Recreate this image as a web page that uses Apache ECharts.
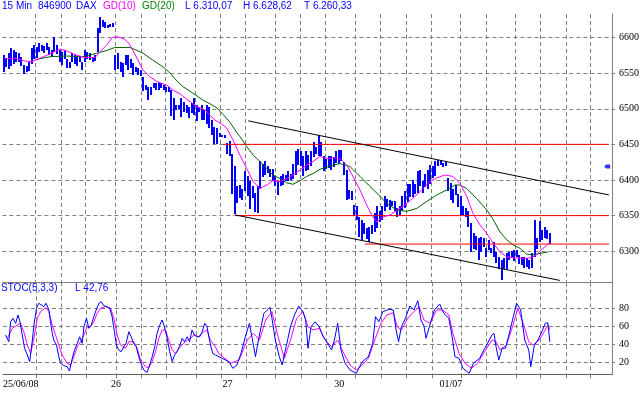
<!DOCTYPE html>
<html><head><meta charset="utf-8">
<script src="https://cdn.jsdelivr.net/npm/echarts@6/dist/echarts.min.js"></script>
<style>html,body{margin:0;padding:0;background:#fff}#c{width:643px;height:393px}</style>
</head><body><div id="c"></div>
<script>
// ---- data (x unit = bar number, 15-minute bars) ----
const high = [
6575,6571,6578,6585,6582,6580,6578,6572,6562,6560,
6565,6585,6590,6587,6592,6590,6588,6592,6586,6582,
6601,6590,6582,6580,6583,6570,6566,6578,6575,6572,
6574,6565,6582,6580,6578,6572,6576,6613,6628.62,6624,
6622,6618,6619,6620,
6575,6578,6566,6564,6575,6575,6570,6564,6559,6557,
6554,6545,6533,6531,6530,6536,6536,6538,6536,6533,
6531,6531,6526,6515,6505,6505,6515,6510,6505,6503,
6508,6515,6505,6503,6505,6498,6505,6503,6484,6475,
6473,6466,6463,6463,
6452,6455,6437,6419,6391,6393,6388,6412,6405,6398,
6391,6382,6391,6426,6423,6426,6419,6416,6415,6405,
6398,6405,6409,6407,6412,6409,6423,6440,6444,6440,
6433,6440,6435,6440,6454,6447,6463,6454,6433,6430,
6433,6433,6432,6440,
6442,6442,6425,6414,6386,6384,6365,6363,6348,6344,
6339,6332,6334,6337,6353,6363,6356,6363,6377,6374,
6372,6370,6370,6360,6363,6377,6384,6395,6395,6400,
6395,6412,6414,6398,6409,6414,6421,6419,6426,6428,
6428,6424,6425,6403,
6396,6387,6393,6381,6377,6363,6360,6356,6340,6325,
6321,6318,6320,6318,6304,6316,6304,6313,6299,6292,
6288,6290,6297,6299,6300,6302,6302,6295,6292,6292,
6290,6288,6297,6344,6318,6342,6330,6334,6330,6326
];
const low = [
6551,6559,6556,6560,6562,6566,6565,6560,6550,6551,
6553,6562,6570,6572,6580,6582,6578,6582,6575,6572,
6580,6578,6565,6562,6570,6558,6558,6566,6563,6560,
6565,6554,6565,6570,6568,6565,6568,6580,6606,6614,
6614,6614,6615,6615,
6554,6556,6552,6545,6561,6554,6557,6547,6552,6547,
6545,6526,6526,6513,6519,6529,6526,6527,6529,6526,
6524,6524,6489,6484,6498,6500,6489,6496,6494,6487,
6494,6491,6482,6496,6484,6484,6478,6473,6463,6451,
6450,6460,6460,6459,
6437,6434,6381,6351,6367,6375,6372,6384,6377,6358,
6374,6356,6353,6386,6405,6407,6409,6405,6398,6391,
6379,6391,6393,6398,6398,6400,6402,6407,6421,6419,
6405,6412,6414,6419,6433,6437,6433,6435,6412,6416,
6416,6414,6418,6423,
6423,6426,6407,6372,6374,6372,6349,6344,6320,6316,
6323,6316,6313,6325,6327,6332,6341,6344,6356,6363,
6358,6363,6356,6348,6351,6356,6360,6370,6377,6376,
6381,6381,6391,6381,6391,6388,6395,6402,6405,6419,
6421,6419,6420,6385,
6372,6368,6379,6363,6351,6351,6348,6334,6299,6302,
6302,6287,6299,6306,6292,6302,6297,6292,6283,6275,
6260.33,6275,6274,6288,6290,6286,6292,6283,6281,6276,
6278,6276,6276,6292,6302,6313,6316,6318,6318,6311
];
const ma10 = [
[0.5,6570],[4.5,6571],[8.4,6567],[11.2,6566],[14.3,6571],[18.2,6577],[22.2,6584],[24.9,6581],[28.9,6575],[32,6572],
[36,6572],[37.9,6580],[40.7,6590],[42.7,6600],[45,6601],[47.4,6598],[49.3,6592],[50.9,6582],[52.9,6568],[54.9,6554],
[57.6,6545],[60.4,6538],[64.3,6533],[66.7,6526],[69.4,6521],[72.6,6512],[76.1,6503],[79.3,6498],[81.2,6491],[83.2,6484],
[85.2,6480],[87.8,6473],[90.3,6456],[93,6435],[95.7,6416],[98.2,6398],[100.9,6388],[103.6,6393],[106,6399],[108.8,6398],
[111.4,6402],[113.9,6407],[116.7,6414],[119.3,6421],[121.8,6426],[124.5,6433],[127.2,6430],[129.7,6431],[132.4,6430],[135.1,6421],
[137.5,6405],[140.3,6386],[142.9,6365],[144.9,6351],[146.9,6341],[149.3,6348],[152.1,6351],[154.7,6357],[157.2,6363],[160,6371],
[162.6,6379],[165.1,6388],[167.8,6398],[170.5,6403],[173.8,6407],[176.9,6405],[179.7,6395],[182.3,6377],[184.8,6353],[187.5,6337],
[190.2,6325],[192.8,6311],[195.4,6299],[198.1,6292],[200.5,6291],[203.3,6290],[205.9,6290],[207.9,6291],[209.9,6295],[211.6,6302],
[213.8,6308],[215.1,6313]
];
const ma20 = [
[12.7,6569],[18.2,6573],[24.9,6574],[31.2,6573],[36.7,6578],[40.7,6582],[43.8,6586],[47.8,6586],[49.7,6586],[51.7,6583],
[54.9,6578],[58.8,6568],[62.7,6559],[65.5,6550],[68.2,6539],[70.6,6531],[74.5,6522],[78.5,6512],[81.2,6507],[84,6501],
[86.4,6492],[89.1,6481],[91.5,6468],[93,6461],[95.7,6447],[98.2,6435],[100.9,6426],[103.6,6416],[106,6407],[108.8,6402],
[111.4,6396],[113.9,6394],[116.7,6399],[119.3,6405],[121.8,6409],[124.5,6415],[127.2,6418],[129.7,6421],[132.4,6423],[136.3,6419],
[140.3,6405],[144.2,6391],[148.2,6377],[150.8,6367],[154.7,6358],[158.7,6356],[162.6,6360],[166.6,6370],[170.5,6379],[174.4,6386],
[177.7,6393],[179.7,6393],[182.3,6388],[186.2,6374],[190.2,6358],[192.8,6344],[195.4,6327],[198.1,6316],[200.5,6309],[203.3,6304],
[205.9,6296],[208.4,6295],[211.2,6297],[214.3,6299]
];
const stochK = [
[0.5,50.3],[1.8,42.9],[2.5,65],[3.4,68.9],[4.5,63.3],[5.4,72.6],[6.2,65],[7.1,50.3],[8,35.6],[9.1,28.1],[10,20.7],[11,42.9],[11.7,61.4],[12.7,80],[13.6,85.6],[14.6,83.7],[15.6,81.8],[16.5,85.6],[17.6,78.1],[18.2,65],[18.9,52.2],[19.5,44.8],[20.6,39.2],[21.5,26.2],[22.2,18.9],[23.5,16.2],[24.8,15.1],[25.7,10.3],[26.8,24.4],[27.7,33.7],[28.8,41.1],[29.7,48.4],[30.7,41.1],[31.4,59.6],[32.4,68.9],[33.3,57.8],[34.3,61.4],[35.3,70.7],[36.2,78.1],[37.3,85.6],[38.2,87.4],[39.2,82.9],[40.6,81.8],[41.6,80],[42.5,70.7],[43.4,54],[44.2,39.2],[45.1,33.7],[46.1,31.8],[47.1,37.3],[48,41.1],[49.1,54],[50,48.4],[51,41.1],[52,37.3],[53,26.2],[54.1,17],[55,11.4],[56.3,8.9],[57.3,17],[58.3,26.2],[59.3,37.3],[60.2,52.2],[61.3,61.4],[62.2,67],[63.1,59.6],[64.2,46.7],[65.2,31.8],[66.2,20.7],[67.1,28.1],[68.1,31.8],[69,37.3],[70.1,46.7],[71,42.9],[72.1,48.4],[73,42.9],[74,55.9],[74.9,50.3],[76,48.4],[77,48.4],[78,54],[79,63.3],[79.9,59.6],[81,42.9],[82.1,30],[83.2,28.1],[85.9,24.4],[88.5,20.7],[90.1,13.3],[91.7,17],[93.3,30],[95,48.4],[96.6,63.3],[97.7,46.7],[99,26.2],[100.3,46.7],[102.3,74.4],[104.7,81.1],[105.5,68.9],[106.8,44.8],[108.4,26.2],[109.5,17],[110.8,33.7],[112.8,59.6],[114.4,72.6],[116,82.6],[117.7,76.3],[118.8,67],[119.7,35.6],[120.9,59.6],[122.5,65],[124.1,59.6],[125.7,48.4],[127.4,41.1],[129,33.7],[130.1,44.8],[131.4,63.3],[132.7,33.7],[134.3,18.9],[136.3,11.4],[138.7,7.8],[141.1,20.7],[143.5,26.2],[145.2,41.1],[146.3,70.7],[147.6,65],[149.2,76.3],[151.7,78.9],[153.3,78.1],[154.4,55.9],[155.4,42.9],[156.5,59.6],[158.1,68.9],[159.8,82.6],[161.4,78.1],[163,88.4],[164.2,67],[165.4,60.3],[166.2,46.7],[167.9,63.3],[169.5,78.1],[171.6,84.8],[173.2,74.4],[175.2,68.9],[176.5,48.4],[177.6,26.2],[179.2,24.4],[180.8,13.3],[183.2,7.8],[184.9,18.9],[187.3,24.4],[189.7,37.3],[192.2,50.3],[193,52.2],[193.8,37.3],[194.9,22.6],[196.2,35.6],[197.5,35.6],[198.7,48.4],[200.3,67],[201.9,85.6],[203.5,78.1],[205.1,44.8],[206.7,33.7],[207.5,15.1],[208.9,39.2],[209.9,42.9],[211.6,52.2],[213.2,63.3],[214.2,64],[215,42.76]
];
const stochD = [
[1.2,46.7],[3.2,57.8],[5.1,61.4],[6.4,63.3],[7.7,54],[9.1,39.2],[10.4,30],[11.7,46.7],[13,68.9],[14.3,76.3],[16.3,80.7],[17.6,76.3],[18.9,61.4],[20.2,50.3],[21.5,39.2],[22.8,28.1],[24.8,18.9],[26.1,17],[27.4,26.2],[28.8,37.3],[30.1,42.9],[31.4,50.3],[32.7,59.6],[34,59.6],[35.3,65],[36.6,74.4],[37.9,80],[39.9,81.8],[41.9,80],[43.2,68.9],[44.5,50.3],[45.8,39.2],[47.8,35.6],[49.1,42.9],[51,42.9],[52.4,35.6],[53.7,22.6],[55.6,15.1],[56.9,14],[58.3,20.7],[59.6,31.8],[60.9,46.7],[62.2,55.9],[63.5,55.9],[64.8,44.8],[66.2,33.7],[67.4,30],[69.4,37.3],[71.4,42.9],[73.4,46.7],[74.7,50.3],[76.6,48.4],[78.6,54],[79.9,55.9],[81.2,44.8],[83.2,37.3],[84.4,30],[89.3,18.9],[92.5,22.6],[95.8,44.8],[98.2,52.2],[100.6,44.8],[103,67],[105.5,76.3],[107.9,48.4],[110.4,24.4],[112.8,44.8],[115.2,68.9],[117.7,76.3],[119.7,59.6],[121.7,55.9],[124.1,57.8],[126.5,44.8],[129,37.3],[131.4,44.8],[133.8,30],[136.3,17],[138.7,11.4],[141.1,17],[143.5,24.4],[146,44.8],[148.4,63.3],[150.8,72.6],[153.3,75.1],[154.9,59.6],[156.5,55.9],[159,68.9],[161.4,76.3],[163.5,81.8],[165.4,67],[167.9,63.3],[170.3,78.1],[172.7,78.1],[175.2,72.6],[176.8,52.2],[179.2,30],[181.6,18.9],[184.1,13.3],[186.5,18.9],[189.7,33.7],[192.2,44.8],[193.8,42.9],[195.4,33.7],[197.9,39.2],[200.3,59.6],[202.4,80],[204.3,65],[206.7,42.9],[208.4,39.2],[210.8,44.8],[213.2,55.9],[214.2,61.4],[215,56]
];
const dayStarts = [0, 44, 88, 132, 176];
const dayLabels = ['25/06/08', '26', '27', '30', '01/07'];
const gridTicks = [12.6,22.5,32.3,44.1,54.0,63.8,75.6,85.4,95.3,106.8,116.9,126.8,138.3,148.4,158.4,168.5,179.9,189.8,201.6,211.4,221.3,231.1];
const priceTicks = [6300, 6350, 6400, 6450, 6500, 6550, 6600];
const stochTicks = [20, 40, 60, 80];
const levelLines = [[86.4, 6450], [91.1, 6350], [142.3, 6310.07]];
const levelEnd = 238.3;
const upperTrend = [[96.3, 6483], [238.3, 6379]];
const lowerTrend = [[91.1, 6351], [219.0, 6259]];
const markerPoint = [237.6, 6419];
const header = [
  ['15 Min', 2, '#0000ff'], ['846900', 38, '#0000ff'], ['DAX', 76, '#0000ff'],
  ['GD(10)', 103, '#ff00ff'], ['GD(20)', 142, '#008000'],
  ['L 6.310,07', 185, '#0000ff'], ['H 6.628,62', 243, '#0000ff'], ['T 6.260,33', 304, '#0000ff']
];
const stochHeader = [['STOC(5,3,3)', 1, '#0000ff'], ['L 42,76', 75, '#0000ff']];

// ---- chart ----
const chart = echarts.init(document.getElementById('c'), null, {renderer: 'canvas'});
const GRAY = '#808080';
const dash = {color: GRAY, type: [4, 3], width: 1};
const labelValues = dayStarts.map((d, k) => k === 0 ? -0.5 : d);
const serif = 'Liberation Serif, Times New Roman, serif';
const sans = 'Liberation Sans, Arial, sans-serif';
const plain = v => String(Math.round(v));

const series = [];
series.push({
  type: 'custom', xAxisIndex: 0, yAxisIndex: 0, clip: false,
  data: high.map((h, i) => [i, h, low[i]]),
  renderItem: (params, api) => {
    const p1 = api.coord([api.value(0), api.value(1)]);
    const p2 = api.coord([api.value(0), api.value(2)]);
    const x = Math.round(p1[0]) - 1;
    return {type: 'rect', shape: {x: x, y: Math.round(p1[1]), width: 2, height: Math.max(1, Math.round(p2[1] - p1[1]))},
            style: {fill: '#0000ff'}};
  }
});
levelLines.forEach(l => series.push({
  type: 'line', xAxisIndex: 0, yAxisIndex: 0, symbol: 'none', silent: true,
  data: [[l[0], l[1]], [levelEnd, l[1]]], lineStyle: {color: '#ff0000', width: 1}
}));
[upperTrend, lowerTrend].forEach(t => series.push({
  type: 'line', xAxisIndex: 0, yAxisIndex: 0, symbol: 'none', silent: true,
  data: t, lineStyle: {color: '#000000', width: 1}
}));
series.push({type: 'line', xAxisIndex: 0, yAxisIndex: 0, symbol: 'none', data: ma20, lineStyle: {color: '#006400', width: 1}});
series.push({type: 'line', xAxisIndex: 0, yAxisIndex: 0, symbol: 'none', data: ma10, lineStyle: {color: '#ff00ff', width: 1}});
series.push({type: 'scatter', xAxisIndex: 0, yAxisIndex: 0, data: [markerPoint], clip: false,
  symbol: 'path://M0,2 L2,0 L6,0 L6,4 L2,4 Z', symbolSize: [6, 4], itemStyle: {color: '#0000ff'}});
series.push({type: 'line', xAxisIndex: 1, yAxisIndex: 1, symbol: 'none', data: stochD, lineStyle: {color: '#ff00ff', width: 1}});
series.push({type: 'line', xAxisIndex: 1, yAxisIndex: 1, symbol: 'none', data: stochK, lineStyle: {color: '#0000ff', width: 1}});

const graphics = [];
header.forEach(h => graphics.push({type: 'text', left: h[1], top: 1,
  style: {text: h[0], fill: h[2], font: '10px ' + sans}}));
stochHeader.forEach(h => graphics.push({type: 'text', left: h[1], top: 283,
  style: {text: h[0], fill: h[2], font: '10px ' + sans}}));

chart.setOption({
  animation: false,
  backgroundColor: '#ffffff',
  grid: [
    {left: 2.4, top: 14, width: 609.6, height: 268.3},
    {left: 2.4, top: 282.3, width: 609.6, height: 92}
  ],
  xAxis: [
    {type: 'value', gridIndex: 0, min: -0.5, max: 239.5,
     axisLine: {show: true, onZero: false, lineStyle: {color: GRAY}},
     axisTick: {show: false, customValues: gridTicks},
     axisLabel: {show: false},
     splitLine: {show: true, lineStyle: dash}},
    {type: 'value', gridIndex: 1, min: -0.5, max: 239.5,
     axisLine: {show: true, onZero: false, lineStyle: {color: '#606060'}},
     axisTick: {show: true, length: 4, customValues: gridTicks, lineStyle: {color: GRAY}},
     axisLabel: {show: true, customValues: labelValues, margin: 5, alignMinLabel: 'left',
       color: '#000', fontFamily: serif, fontSize: 10,
       formatter: v => { const k = labelValues.findIndex(x => Math.abs(x - v) < 0.01); return k >= 0 ? dayLabels[k] : ''; }},
     splitLine: {show: true, lineStyle: dash}}
  ],
  yAxis: [
    {type: 'value', gridIndex: 0, position: 'right', min: 6256.4, max: 6633,
     axisLine: {show: true, onZero: false, lineStyle: {color: GRAY}},
     axisTick: {show: true, length: 3, customValues: priceTicks, lineStyle: {color: GRAY}},
     axisLabel: {customValues: priceTicks, margin: 7, color: '#000', fontFamily: serif, fontSize: 10, formatter: plain},
     splitLine: {show: true, lineStyle: dash}},
    {type: 'value', gridIndex: 1, position: 'right', min: 6.67, max: 108.9,
     axisLine: {show: true, onZero: false, lineStyle: {color: GRAY}},
     axisTick: {show: true, length: 3, customValues: stochTicks, lineStyle: {color: GRAY}},
     axisLabel: {customValues: stochTicks, margin: 7, color: '#000', fontFamily: serif, fontSize: 10, formatter: plain},
     splitLine: {show: true, lineStyle: dash}}
  ],
  series: series,
  graphic: graphics
});
</script></body></html>
